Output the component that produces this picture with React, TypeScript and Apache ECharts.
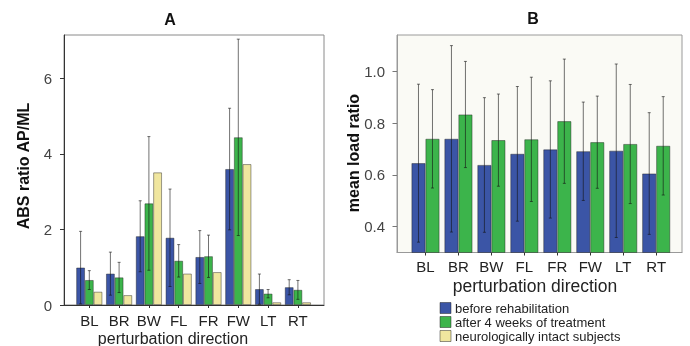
import React, { useEffect, useRef } from "react";
import * as echarts from "echarts";

const categories = ["BL", "BR", "BW", "FL", "FR", "FW", "LT", "RT"];
const seriesNames = ["before rehabilitation", "after 4 weeks of treatment", "neurologically intact subjects"];

// Panel A: ABS ratio AP/ML
const absBefore = [0.99, 0.83, 1.82, 1.78, 1.27, 3.6, 0.42, 0.47];
const absBeforeSd = [0.96, 0.57, 0.94, 1.29, 0.7, 1.61, 0.4, 0.2];
const absAfter = [0.66, 0.73, 2.69, 1.17, 1.29, 4.44, 0.3, 0.4];
const absAfterSd = [0.25, 0.4, 1.77, 0.43, 0.56, 2.6, 0.11, 0.25];
const absIntact = [0.35, 0.26, 3.51, 0.83, 0.87, 3.73, 0.07, 0.07];
const absTicks = [0, 2, 4, 6];

// Panel B: mean load ratio
const loadBefore = [0.645, 0.739, 0.638, 0.681, 0.698, 0.691, 0.693, 0.605];
const loadBeforeSd = [0.305, 0.36, 0.26, 0.26, 0.265, 0.19, 0.335, 0.235];
const loadAfter = [0.739, 0.833, 0.734, 0.737, 0.807, 0.726, 0.719, 0.712];
const loadAfterSd = [0.19, 0.205, 0.178, 0.24, 0.24, 0.178, 0.23, 0.19];
const loadTicks = [0.4, 0.6, 0.8, 1.0];

const BLUE = "#3b55a6";
const GREEN = "#3cb44b";
const YELLOW = "#f0e69f";
const seriesColors = [BLUE, GREEN, YELLOW];
const FONT = "'Liberation Sans', Arial, sans-serif";

function errSeries(means: number[], sds: number[], xi: number, offset: number) {
  return {
    type: "custom",
    xAxisIndex: xi,
    yAxisIndex: xi,
    z: 5,
    silent: true,
    data: means.map((m, i) => [i, m, sds[i]]),
    encode: { x: 0, y: 1 },
    renderItem: (params: any, api: any) => {
      const idx = api.value(0);
      const m = api.value(1);
      const sd = api.value(2);
      const top = api.coord([idx, m + sd]);
      const bot = api.coord([idx, m - sd]);
      const x = top[0] + offset;
      const style = { stroke: "rgba(20,20,20,0.6)", lineWidth: 1 };
      return {
        type: "group",
        children: [
          { type: "line", shape: { x1: x, y1: top[1], x2: x, y2: bot[1] }, style },
          { type: "line", shape: { x1: x - 1.5, y1: top[1], x2: x + 1.5, y2: top[1] }, style },
          { type: "line", shape: { x1: x - 1.5, y1: bot[1], x2: x + 1.5, y2: bot[1] }, style },
        ],
      };
    },
  };
}

function barSeries(name: string, data: number[], color: string, xi: number, width: number) {
  return {
    type: "bar",
    name,
    xAxisIndex: xi,
    yAxisIndex: xi,
    data,
    barWidth: width,
    barGap: "0%",
    itemStyle: { color, borderColor: "rgba(30,30,30,0.55)", borderWidth: 0.8 },
  };
}

export default function App() {
  const ref = useRef<HTMLDivElement>(null);
  useEffect(() => {
    if (!ref.current) return;
    const chart = echarts.init(ref.current, undefined, { renderer: "svg" });
    const catAxisCommon = {
      type: "category",
      data: categories,
      axisLine: { show: false },
      axisTick: { show: true, alignWithLabel: true, length: 3, lineStyle: { color: "#333" } },
      axisLabel: { fontSize: 15, color: "#222", fontFamily: FONT, interval: 0 },
      splitLine: { show: false },
    };
    const legendRows = [308, 322, 336];
    const legendGraphics: any[] = [];
    seriesNames.forEach((name, i) => {
      legendGraphics.push({
        type: "rect",
        shape: { x: 440, y: legendRows[i] - 5.5, width: 11, height: 11 },
        style: { fill: seriesColors[i], stroke: "rgba(30,30,30,0.6)", lineWidth: 0.8 },
      });
      legendGraphics.push({
        type: "text",
        x: 455,
        y: legendRows[i],
        style: { text: name, font: `13px ${FONT}`, fill: "#222", textAlign: "left", textVerticalAlign: "middle" },
      });
    });
    chart.setOption({
      animation: false,
      textStyle: { fontFamily: FONT },
      grid: [
        { left: 64, top: 35, width: 260, height: 270, show: true, borderColor: "#8a8a8a", borderWidth: 1, backgroundColor: "#ffffff" },
        { left: 74.4, top: 35, width: 238.4, height: 270 },
        { left: 397, top: 35, width: 285, height: 217.5, show: true, borderColor: "#9a9a9a", borderWidth: 1, backgroundColor: "#fafaf5" },
        { left: 409, top: 35, width: 263.7, height: 217.5 },
      ],
      xAxis: [
        { gridIndex: 0, type: "value", min: 0, max: 1, axisLine: { show: true, lineStyle: { color: "#333" } }, axisTick: { show: false }, axisLabel: { show: false }, splitLine: { show: false } },
        { ...catAxisCommon, gridIndex: 1, axisLabel: { ...catAxisCommon.axisLabel, margin: 8 } },
        { gridIndex: 2, type: "value", min: 0, max: 1, axisLine: { show: true, lineStyle: { color: "#999" } }, axisTick: { show: false }, axisLabel: { show: false }, splitLine: { show: false } },
        { ...catAxisCommon, gridIndex: 3, axisLabel: { ...catAxisCommon.axisLabel, margin: 6 } },
      ],
      yAxis: [
        {
          gridIndex: 0, type: "value", min: 0, max: 7.15,
          axisLine: { show: true, lineStyle: { color: "#333" } },
          axisTick: { show: true, length: 4, customValues: absTicks, lineStyle: { color: "#333" } },
          axisLabel: { fontSize: 15, color: "#444", margin: 12, customValues: absTicks, fontFamily: FONT },
          splitLine: { show: false },
        },
        { gridIndex: 1, type: "value", min: 0, max: 7.15, show: false },
        {
          gridIndex: 2, type: "value", min: 0.3, max: 1.14,
          axisLine: { show: true, lineStyle: { color: "#999" } },
          axisTick: { show: true, length: 4.5, customValues: loadTicks, lineStyle: { color: "#777" } },
          axisLabel: { fontSize: 15, color: "#444", margin: 12, customValues: loadTicks, formatter: (v: number) => v.toFixed(1), fontFamily: FONT },
          splitLine: { show: false },
        },
        { gridIndex: 3, type: "value", min: 0.3, max: 1.14, show: false },
      ],
      graphic: [
        { type: "text", x: 170, y: 19, style: { text: "A", font: `bold 16px ${FONT}`, fill: "#111", textAlign: "center", textVerticalAlign: "middle" } },
        { type: "text", x: 533, y: 18, style: { text: "B", font: `bold 16px ${FONT}`, fill: "#111", textAlign: "center", textVerticalAlign: "middle" } },
        { type: "text", x: 23, y: 166, rotation: Math.PI / 2, style: { text: "ABS ratio AP/ML", font: `bold 16px ${FONT}`, fill: "#111", textAlign: "center", textVerticalAlign: "middle" } },
        { type: "text", x: 353, y: 153, rotation: Math.PI / 2, style: { text: "mean load ratio", font: `bold 16px ${FONT}`, fill: "#111", textAlign: "center", textVerticalAlign: "middle" } },
        { type: "text", x: 173, y: 338, style: { text: "perturbation direction", font: `16px ${FONT}`, fill: "#222", textAlign: "center", textVerticalAlign: "middle" } },
        { type: "text", x: 535, y: 286, style: { text: "perturbation direction", font: `17.5px ${FONT}`, fill: "#222", textAlign: "center", textVerticalAlign: "middle" } },
        ...legendGraphics,
      ],
      series: [
        barSeries(seriesNames[0], absBefore, BLUE, 1, 8.7),
        barSeries(seriesNames[1], absAfter, GREEN, 1, 8.7),
        barSeries(seriesNames[2], absIntact, YELLOW, 1, 8.7),
        errSeries(absBefore, absBeforeSd, 1, -8.7),
        errSeries(absAfter, absAfterSd, 1, 0),
        barSeries(seriesNames[0], loadBefore, BLUE, 3, 14),
        barSeries(seriesNames[1], loadAfter, GREEN, 3, 14),
        errSeries(loadBefore, loadBeforeSd, 3, -7),
        errSeries(loadAfter, loadAfterSd, 3, 7),
      ],
    });
    return () => chart.dispose();
  }, []);
  return <div ref={ref} style={{ position: "fixed", left: 0, top: 0, width: 690, height: 346 }} />;
}
